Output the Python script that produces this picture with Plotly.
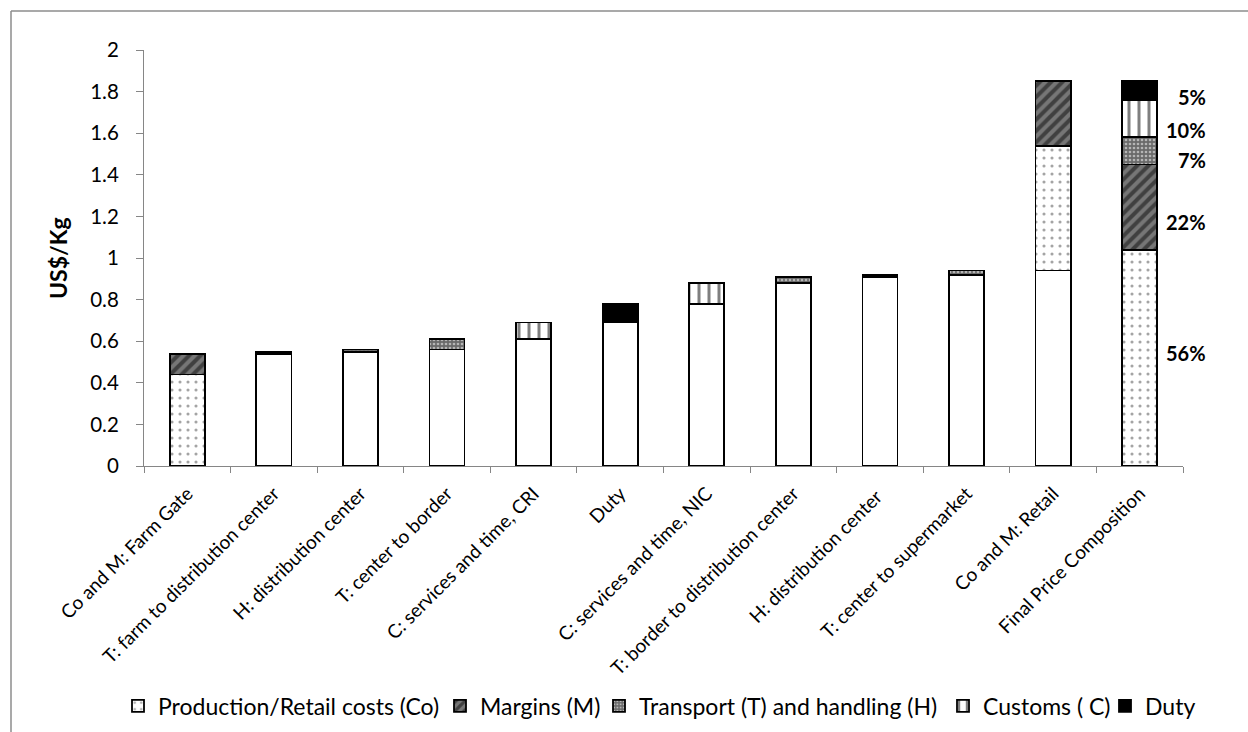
import plotly.graph_objects as go

# Stage-by-stage build-up of the retail price (US$/Kg)
categories = [
    "Co and M: Farm Gate",
    "T: farm to distribution center",
    "H: distribution center",
    "T: center to border",
    "C: services and time, CRI",
    "Duty",
    "C: services and time, NIC",
    "T: border to distribution center",
    "H: distribution center ",
    "T: center to supermarket",
    "Co and M: Retail",
    "Final Price Composition",
]
base = [0, 0.54, 0.55, 0.56, 0.61, 0.69, 0.78, 0.88, 0.91, 0.92, 0.94, 0]
costs = [0.44, 0, 0, 0, 0, 0, 0, 0, 0, 0, 0.60, 1.04]
margins = [0.10, 0, 0, 0, 0, 0, 0, 0, 0, 0, 0.31, 0.41]
transport = [0, 0.01, 0.01, 0.05, 0, 0, 0, 0.03, 0.01, 0.02, 0, 0.13]
customs = [0, 0, 0, 0, 0.08, 0, 0.10, 0, 0, 0, 0, 0.18]
duty = [0, 0, 0, 0, 0, 0.09, 0, 0, 0, 0, 0, 0.09]

series_names = [
    "Production/Retail costs (Co)",
    "Margins (M)",
    "Transport (T) and handling (H)",
    "Customs ( C)",
    "Duty",
]

W, H = 1248, 732
L, R, T, B = 144, 65, 50, 266
PW, PH = W - L - R, H - T - B


def px_x(p):
    return (p - L) / PW


def px_y(p):
    return (H - B - p) / PH


FONT = "Lato"
OUTLINE = dict(color="black", width=1.8)

patterns = [
    dict(shape=".", fgcolor="#4a4a4a", bgcolor="white", size=8, solidity=0.12, fillmode="overlay"),
    dict(shape="/", fgcolor="#0a0a0a", bgcolor="#767676", size=8, solidity=0.5, fillmode="overlay"),
    dict(shape=".", fgcolor="white", bgcolor="#6a6a6a", size=4, solidity=0.35, fillmode="overlay"),
    dict(shape="|", fgcolor="black", bgcolor="white", size=10, solidity=0.3, fillmode="overlay"),
    None,
]
colors = ["white", "#767676", "#6a6a6a", "white", "black"]
values = [costs, margins, transport, customs, duty]

# each legend entry sits in its own one-item legend so the row never wraps
legend_text_x = [158, 480, 639, 983, 1145]
legend_ids = ["legend", "legend2", "legend3", "legend4", "legend5"]

fig = go.Figure()

# running total underneath each step
fig.add_trace(go.Bar(
    x=categories, y=base, marker=dict(color="white", line=OUTLINE),
    showlegend=False, hoverinfo="skip",
))

for name, vals, col, pat, lg in zip(series_names, values, colors, patterns, legend_ids):
    marker = dict(color=col, line=OUTLINE)
    if pat is not None:
        marker["pattern"] = pat
    fig.add_trace(go.Bar(x=categories, y=vals, name=name, marker=marker, legend=lg))

# share of each component in the final price
final_total = sum(v[-1] for v in values)
label_shift = [5, -15, -9, -11, -6]
running = 0.0
for vals, shift in zip(values, label_shift):
    seg = vals[-1]
    mid = running + seg / 2
    running += seg
    fig.add_annotation(
        x=px_x(1208), xref="paper", xanchor="right",
        y=mid, yref="y", yshift=shift, yanchor="middle",
        text=f"{round(seg / final_total * 100)}%", showarrow=False,
        font=dict(family=FONT, size=20, color="black", weight="bold"),
    )

# axis title
fig.add_annotation(
    x=px_x(58), xref="paper", y=0.5, yref="paper", textangle=-90,
    text="US$/Kg", showarrow=False, xanchor="center", yanchor="middle",
    font=dict(family=FONT, size=23, color="black", weight="bold"),
)

# chart-area frame
frame = dict(type="line", xref="paper", yref="paper", line=dict(color="#8c8c8c", width=1.5))
fig.add_shape(**frame, x0=px_x(11), x1=px_x(11), y0=px_y(11), y1=px_y(760))
fig.add_shape(**frame, x0=px_x(11), x1=px_x(1270), y0=px_y(11), y1=px_y(11))

legend_style = dict(
    orientation="h", xanchor="left", xref="paper",
    y=px_y(706), yanchor="middle", bgcolor="rgba(0,0,0,0)",
    font=dict(family=FONT, size=23, color="black"),
    itemwidth=30,
)
legends = {lg: dict(legend_style, x=px_x(tx - 40)) for lg, tx in zip(legend_ids, legend_text_x)}

fig.update_layout(
    width=W, height=H,
    margin=dict(l=L, r=R, t=T, b=B, autoexpand=False),
    paper_bgcolor="white", plot_bgcolor="white",
    barmode="stack", bargap=0.595,
    font=dict(family=FONT, color="black"),
    **legends,
)
fig.update_xaxes(
    type="category", showgrid=False, zeroline=False,
    showline=True, linecolor="#868686", linewidth=1.2,
    ticks="outside", tickson="boundaries", ticklen=6, tickcolor="#868686",
    tickangle=-45, tickfont=dict(family=FONT, size=19, color="black"),
    ticklabelstandoff=8,
)
fig.update_yaxes(
    range=[0, 2], dtick=0.2, tick0=0, showgrid=False, zeroline=False,
    showline=True, linecolor="#868686", linewidth=1.2,
    ticks="outside", ticklen=7, tickcolor="#868686",
    tickfont=dict(family=FONT, size=20.5, color="black"),
    ticklabelstandoff=13,
)

fig.write_html("out.html")
